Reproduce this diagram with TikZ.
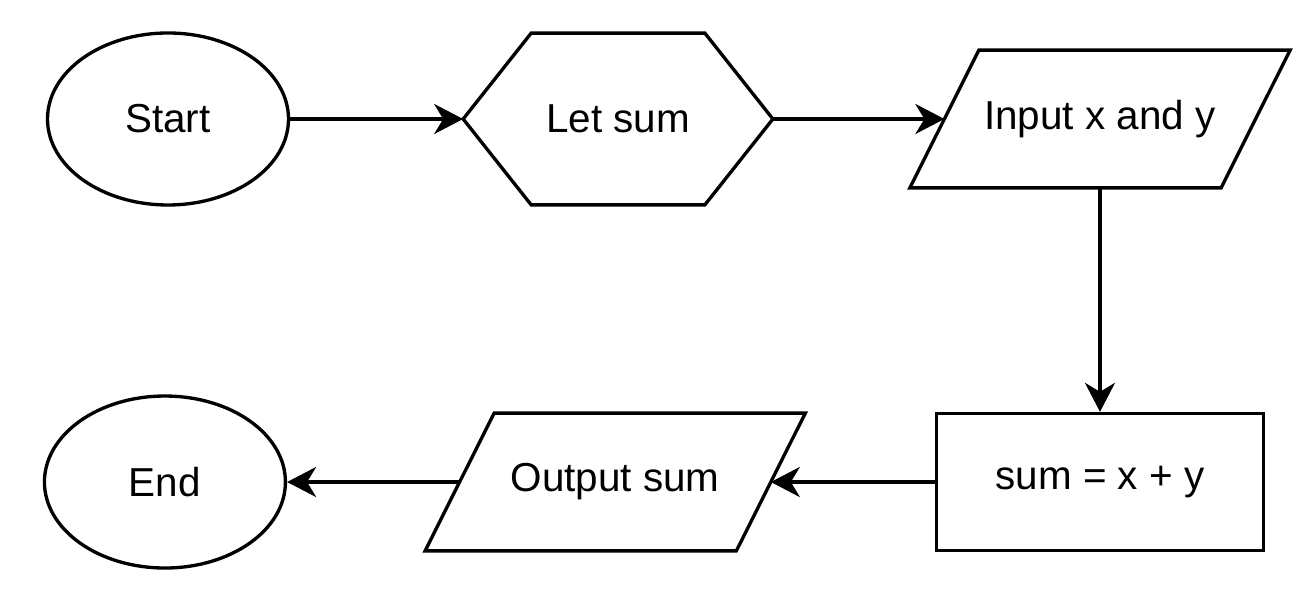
\documentclass[tikz,border=0pt]{standalone}
\usepackage{fontspec}
\setmainfont{Liberation Sans}
\usetikzlibrary{arrows.meta,positioning,shapes.geometric}
\tikzset{
  fterm/.style={ellipse, draw, line width=1.9pt, minimum width=4.82cm,
               minimum height=3.44cm, font=\fontsize{23}{28}\selectfont},
  fprep/.style={rectangle, minimum width=6.18cm, minimum height=3.42cm,
               font=\fontsize{23}{28}\selectfont,
               append after command={\pgfextra{\draw[line width=1.9pt, line join=miter]
                 (\tikzlastnode.west) -- ([xshift=1.36cm]\tikzlastnode.north west)
                 -- ([xshift=-1.36cm]\tikzlastnode.north east) -- (\tikzlastnode.east)
                 -- ([xshift=-1.36cm]\tikzlastnode.south east)
                 -- ([xshift=1.36cm]\tikzlastnode.south west) -- cycle;}}},
  fio/.style={rectangle, minimum width=6.21cm, minimum height=2.74cm,
               font=\fontsize{23}{28}\selectfont,
               append after command={\pgfextra{\draw[line width=1.9pt, line join=miter]
                 ([xshift=0.69cm]\tikzlastnode.north west)
                 -- ([xshift=0.69cm]\tikzlastnode.north east)
                 -- ([xshift=-0.69cm]\tikzlastnode.south east)
                 -- ([xshift=-0.69cm]\tikzlastnode.south west) -- cycle;}}},
  fproc/.style={rectangle, draw, line width=1.9pt, minimum width=6.54cm,
               minimum height=2.74cm, font=\fontsize{23}{28}\selectfont},
  farr/.style={-{Stealth[length=5.8mm, width=6mm, inset=1.8mm]}, line width=1.9pt},
}
\begin{document}
\begin{tikzpicture}
  \useasboundingbox (0,0) rectangle (26.04,11.92);
  \node[fterm] (start) at (3.36,9.54) {Start};
  \node[fprep, right=3.46cm of start]  (letsum) {Let sum};
  \node[fio,   right=3.43cm of letsum] (input)  {Input x and y};
  \node[fproc, below=4.48cm of input]  (calc)   {sum = x + y};
  \node[fio,   left=3.28cm of calc]    (output) {Output sum};
  \node[fterm, left=3.45cm of output]  (stop)   {End};

  \draw[farr] (start)  -- (letsum);
  \draw[farr] (letsum) -- (input);
  \draw[farr] (input)  -- (calc);
  \draw[farr] (calc)   -- (output);
  \draw[farr] (output) -- (stop);
\end{tikzpicture}
\end{document}
